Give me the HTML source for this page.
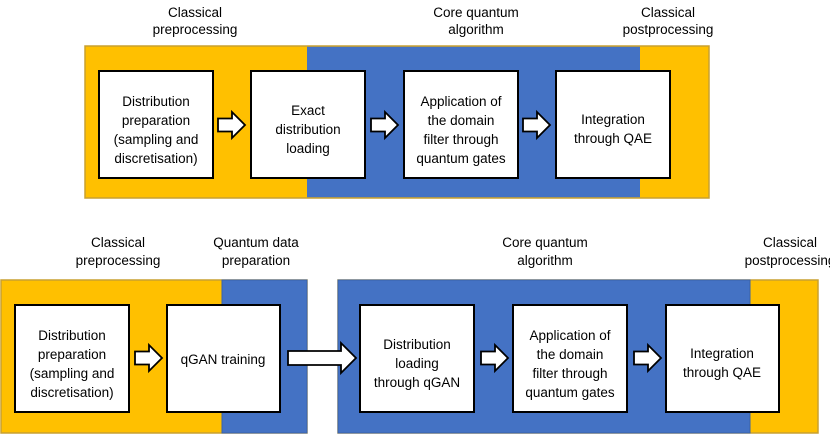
<!DOCTYPE html>
<html><head><meta charset="utf-8"><style>
body{margin:0;background:#fff}
svg{display:block}
text{font-family:"Liberation Sans",sans-serif;font-size:13.5px;fill:#000;text-anchor:middle}
</style></head><body>
<svg width="830" height="434" viewBox="0 0 830 434" xmlns="http://www.w3.org/2000/svg">
<defs>
<path id="ar" d="M0,-6.5 H14 V-13 L27,0 L14,13 V6.5 H0 Z" fill="#fff" stroke="#000" stroke-width="1.8"/>
</defs>
<!-- top panel -->
<rect x="85" y="46" width="624" height="152" fill="#FFC000" stroke="#C9A030" stroke-width="1.5"/>
<rect x="307" y="46.75" width="333" height="150.5" fill="#4472C4"/>
<g fill="#fff" stroke="#000" stroke-width="2">
<rect x="99" y="71" width="114" height="107"/>
<rect x="251" y="71" width="114" height="107"/>
<rect x="404" y="71" width="114" height="107"/>
<rect x="556" y="71" width="114" height="107"/>
</g>
<use href="#ar" x="218" y="125"/>
<use href="#ar" x="371" y="125"/>
<use href="#ar" x="523" y="125"/>
<text x="156" y="106">Distribution</text>
<text x="156" y="125">preparation</text>
<text x="156" y="144">(sampling and</text>
<text x="156" y="163">discretisation)</text>
<text x="308" y="115">Exact</text>
<text x="308" y="134">distribution</text>
<text x="308" y="153">loading</text>
<text x="461" y="106">Application of</text>
<text x="461" y="125">the domain</text>
<text x="461" y="144">filter through</text>
<text x="461" y="163">quantum gates</text>
<text x="613" y="124">Integration</text>
<text x="613" y="143">through QAE</text>
<text x="195" y="17">Classical</text>
<text x="195" y="34">preprocessing</text>
<text x="476" y="17">Core quantum</text>
<text x="476" y="34">algorithm</text>
<text x="668" y="17">Classical</text>
<text x="668" y="34">postprocessing</text>
<!-- bottom -->
<rect x="1" y="280" width="306" height="153" fill="#FFC000" stroke="#C9A030" stroke-width="1.5"/>
<rect x="222" y="280" width="85" height="153" fill="#4472C4" stroke="#3A62A8" stroke-width="1"/>
<rect x="338" y="280" width="480" height="153" fill="#FFC000" stroke="#C9A030" stroke-width="1.5"/>
<rect x="338" y="280" width="412" height="153" fill="#4472C4" stroke="#3A62A8" stroke-width="1"/>
<g fill="#fff" stroke="#000" stroke-width="2">
<rect x="15" y="305" width="114" height="107"/>
<rect x="167" y="305" width="113" height="107"/>
<rect x="360" y="305" width="114" height="107"/>
<rect x="513" y="305" width="114" height="107"/>
<rect x="666" y="305" width="113" height="107"/>
</g>
<use href="#ar" x="135" y="358"/>
<use href="#ar" x="481" y="358"/>
<use href="#ar" x="634" y="358"/>
<path d="M288,351 H341 V343 L356,358 L341,373 V365 H288 Z" fill="#fff" stroke="#000" stroke-width="1.8"/>
<text x="72" y="340">Distribution</text>
<text x="72" y="359">preparation</text>
<text x="72" y="378">(sampling and</text>
<text x="72" y="397">discretisation)</text>
<text x="223" y="364">qGAN training</text>
<text x="417" y="349">Distribution</text>
<text x="417" y="368">loading</text>
<text x="417" y="387">through qGAN</text>
<text x="570" y="340">Application of</text>
<text x="570" y="359">the domain</text>
<text x="570" y="378">filter through</text>
<text x="570" y="397">quantum gates</text>
<text x="722" y="358">Integration</text>
<text x="722" y="377">through QAE</text>
<text x="118" y="247">Classical</text>
<text x="118" y="265">preprocessing</text>
<text x="256" y="247">Quantum data</text>
<text x="256" y="265">preparation</text>
<text x="545" y="247">Core quantum</text>
<text x="545" y="265">algorithm</text>
<text x="790" y="247">Classical</text>
<text x="790" y="265">postprocessing</text>
</svg>
</body></html>
